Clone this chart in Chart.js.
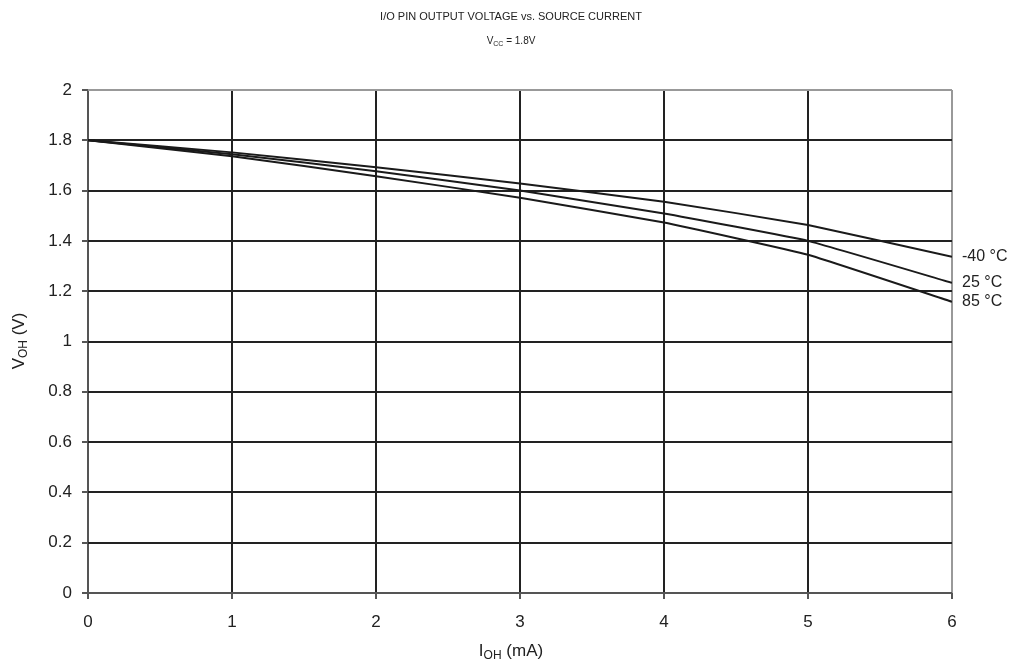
<!DOCTYPE html>
<html>
<head>
<meta charset="utf-8">
<script src="https://cdn.jsdelivr.net/npm/chart.js@4/dist/chart.umd.min.js"></script>
<style>
  html, body { margin: 0; padding: 0; background: #fff; }
  #wrap { width: 1013px; height: 667px; position: relative; }
</style>
</head>
<body>
<div id="wrap"><canvas id="c"></canvas></div>
<script>
// Source current (mA) and output voltage (V)
const currents = [0, 1, 2, 3, 4, 5, 6];
const voh_m40 = [1.80, 1.752, 1.693, 1.628, 1.556, 1.463, 1.337];
const voh_25  = [1.80, 1.745, 1.677, 1.600, 1.509, 1.400, 1.233];
const voh_85  = [1.80, 1.737, 1.657, 1.572, 1.473, 1.345, 1.158];
const seriesLabels = ['-40 °C', '25 °C', '85 °C'];
const xTicks = [0, 1, 2, 3, 4, 5, 6];
const yTicks = [0, 0.2, 0.4, 0.6, 0.8, 1, 1.2, 1.4, 1.6, 1.8, 2];

const FONT = '"Liberation Sans", Arial, sans-serif';

function toPoints(ys) {
    return currents.map((x, i) => ({ x: x, y: ys[i] }));
}

// text with subscript, e.g. V + "OH" + " (V)"
function subText(ctx, x, y, base, sub, rest, size, align) {
    ctx.save();
    ctx.font = size + 'px ' + FONT;
    const w1 = ctx.measureText(base).width;
    const w3 = ctx.measureText(rest).width;
    ctx.font = Math.round(size * 0.7) + 'px ' + FONT;
    const w2 = ctx.measureText(sub).width;
    const total = w1 + w2 + w3;
    let sx = align === 'center' ? x - total / 2 : x;
    ctx.textAlign = 'left';
    ctx.textBaseline = 'middle';
    ctx.fillStyle = '#222';
    ctx.font = size + 'px ' + FONT;
    ctx.fillText(base, sx, y);
    ctx.font = Math.round(size * 0.7) + 'px ' + FONT;
    ctx.fillText(sub, sx + w1, y + size * 0.3);
    ctx.font = size + 'px ' + FONT;
    ctx.fillText(rest, sx + w1 + w2, y);
    ctx.restore();
}

const annotations = {
    id: 'annotations',
    afterDraw(chart) {
        const ctx = chart.ctx;
        const xs = chart.scales.x, ys = chart.scales.y;
        ctx.save();
        ctx.fillStyle = '#222';
        ctx.font = '11px ' + FONT;
        ctx.textAlign = 'center';
        ctx.textBaseline = 'middle';
        ctx.fillText('I/O PIN OUTPUT VOLTAGE vs. SOURCE CURRENT', 511, 17);
        ctx.restore();
        subText(ctx, 511, 41, 'V', 'CC', ' = 1.8V', 10, 'center');
        subText(ctx, 511, 651, 'I', 'OH', ' (mA)', 17, 'center');

        ctx.save();
        ctx.translate(19, 341);
        ctx.rotate(-Math.PI / 2);
        subText(ctx, 0, 0, 'V', 'OH', ' (V)', 17, 'center');
        ctx.restore();

        // series labels at the right end of each curve
        ctx.save();
        ctx.fillStyle = '#222';
        ctx.font = '16px ' + FONT;
        ctx.textAlign = 'left';
        ctx.textBaseline = 'middle';
        chart.data.datasets.forEach((ds, i) => {
            const last = ds.data[ds.data.length - 1];
            ctx.fillText(seriesLabels[i], xs.getPixelForValue(last.x) + 10, ys.getPixelForValue(last.y));
        });
        ctx.restore();
    }
};

const lineStyle = { borderColor: '#1a1a1a', borderWidth: 2, pointRadius: 0, tension: 0.1, fill: false };

new Chart(document.getElementById('c'), {
    type: 'line',
    data: {
        datasets: [
            { label: seriesLabels[0], data: toPoints(voh_m40), ...lineStyle },
            { label: seriesLabels[1], data: toPoints(voh_25), ...lineStyle },
            { label: seriesLabels[2], data: toPoints(voh_85), ...lineStyle },
        ],
    },
    options: {
        responsive: true,
        maintainAspectRatio: false,
        animation: false,
        layout: { padding: { top: 90, right: 61, left: 0, bottom: 0 } },
        plugins: { legend: { display: false }, tooltip: { enabled: false } },
        scales: {
            x: {
                type: 'linear',
                min: 0, max: 6,
                afterBuildTicks: (s) => { s.ticks = xTicks.map(v => ({ value: v })); },
                afterFit: (s) => { s.height = 74; },
                border: { display: false },
                grid: {
                    color: (c) => c.tick && c.tick.value === 6 ? '#999' : (c.tick && c.tick.value === 0 ? '#555' : '#222'),
                    lineWidth: 2,
                    tickLength: 6,
                    tickColor: '#555',
                },
                ticks: { color: '#222', font: { family: FONT, size: 17 }, padding: 13, maxRotation: 0 },
            },
            y: {
                min: 0, max: 2,
                afterBuildTicks: (s) => { s.ticks = yTicks.map(v => ({ value: v })); },
                afterFit: (s) => { s.width = 88; },
                border: { display: false },
                grid: {
                    color: (c) => c.tick && c.tick.value === 2 ? '#999' : (c.tick && c.tick.value === 0 ? '#555' : '#222'),
                    lineWidth: 2,
                    tickLength: 6,
                    tickColor: '#555',
                },
                ticks: {
                    color: '#222', font: { family: FONT, size: 17 }, padding: 10,
                    callback: (v) => String(Math.round(v * 10) / 10),
                },
            },
        },
    },
    plugins: [annotations],
});
</script>
</body>
</html>
